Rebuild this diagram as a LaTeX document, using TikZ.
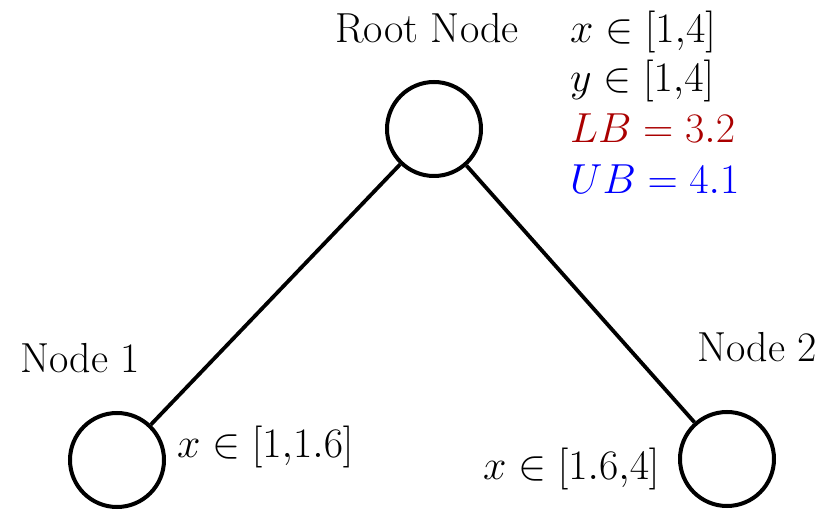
\documentclass[tikz,border=0pt]{standalone}
\usepackage{fix-cm}
\usepackage{xcolor}
\definecolor{lbred}{RGB}{170,0,0}
\definecolor{ubblue}{RGB}{0,0,255}
\tikzset{
  treenode/.style={circle, draw, line width=4pt, minimum size=94pt, inner sep=0pt},
  lbl/.style={anchor=base west, inner sep=0pt, font=\fontsize{42}{50}\selectfont},
  edge/.style={line width=3.8pt}
}
\begin{document}
\begin{tikzpicture}[x=1pt, y=1pt]
  \useasboundingbox (0,0) rectangle (836,514);
  % Nodes
  \node[treenode] (root) at (434,385) {};
  \node[treenode] (n1) at (117,54) {};
  \node[treenode] (n2) at (727,55) {};
  % Edges
  \draw[edge] (root) -- (n1);
  \draw[edge] (root) -- (n2);
  % Root labels
  \node[lbl] (rootname) at (335,471) {Root Node};
  \node[lbl] (rx) at (570,471) {$x \in [1{,}4]$};
  \node[lbl] (ry) at (570,422) {$y \in [1{,}4]$};
  \node[lbl, text=lbred] (rlb) at (570,371) {$LB = 3.2$};
  \node[lbl, text=ubblue] (rub) at (570,320) {$UB = 4.1$};
  % Child labels
  \node[lbl] (n1name) at (20,141) {Node 1};
  \node[lbl] (n1x) at (177,56) {$x \in [1{,}1.6]$};
  \node[lbl] (n2name) at (697,152) {Node 2};
  \node[lbl] (n2x) at (483,34) {$x \in [1.6{,}4]$};
\end{tikzpicture}
\end{document}
